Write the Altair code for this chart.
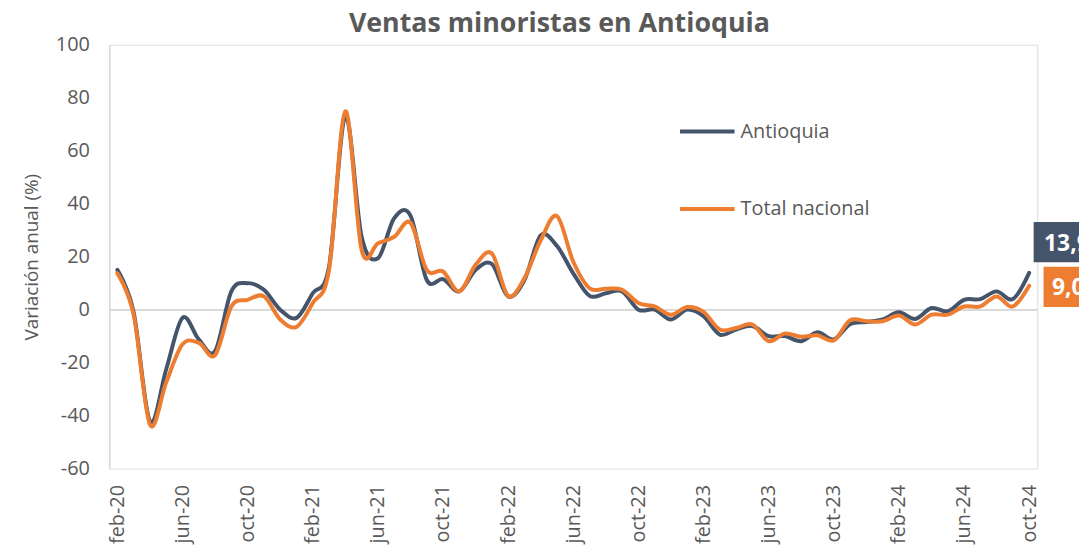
import altair as alt
import pandas as pd

# ---- data ----
tick_idx = list(range(0, 57, 4))
tick_labels = ["feb-20", "jun-20", "oct-20", "feb-21", "jun-21", "oct-21", "feb-22",
               "jun-22", "oct-22", "feb-23", "jun-23", "oct-23", "feb-24", "jun-24", "oct-24"]
series_names = ["Antioquia", "Total nacional"]
series_colors = ["#44546A", "#ED7D31"]

antioquia = [15.0, -1.0, -42.2, -22.5, -3.1, -11.2, -15.7, 6.9, 10.0, 7.5,
             0.0, -3.1, 6.2, 16.2, 73.0, 27.5, 19.4, 34.5, 35.5, 11.2,
             11.5, 6.9, 15.0, 17.2, 5.0, 11.2, 28.0, 24.0, 13.7, 5.2,
             6.2, 6.9, 0.0, 0.0, -3.7, 0.0, -2.5, -9.4, -7.5, -6.2,
             -10.0, -10.0, -11.9, -8.5, -11.2, -5.5, -4.7, -3.7, -1.0, -3.5,
             0.6, -0.6, 3.7, 4.0, 6.9, 4.0, 13.9]
nacional = [13.7, -2.0, -43.4, -27.4, -13.1, -12.5, -17.2, 1.2, 3.7, 5.0,
            -3.7, -6.5, 2.5, 15.0, 74.9, 22.5, 25.0, 27.5, 32.8, 15.0,
            14.4, 6.9, 16.9, 21.2, 5.2, 11.9, 26.2, 35.3, 18.1, 8.1,
            7.9, 7.5, 2.5, 1.2, -1.9, 1.0, -0.8, -7.5, -6.9, -5.6,
            -11.9, -9.0, -10.2, -9.7, -11.6, -4.0, -4.4, -4.4, -2.2, -5.6,
            -1.9, -1.9, 1.2, 1.2, 5.0, 1.2, 9.0]

rows = []
for name, vals in zip(series_names, [antioquia, nacional]):
    for i, v in enumerate(vals):
        rows.append({"idx": i, "serie": name, "valor": v,
                     "etiqueta": f"{v:.1f}".replace(".", ",")})
df = pd.DataFrame(rows)
last_idx = len(antioquia) - 1
df_a = df[df.serie == series_names[0]]
df_n = df[df.serie == series_names[1]]
last_a = df_a[df_a.idx == last_idx]
last_n = df_n[df_n.idx == last_idx]

FONT = "Open Sans"
GRAY = "#595959"
AXIS_GRAY = "#D9D9D9"

label_expr = "[" + ",".join(f"'{t}'" for t in tick_labels) + "][round(datum.value/4)]"

x = alt.X("idx:Q",
          scale=alt.Scale(domain=[-0.5, last_idx + 0.5], nice=False, zero=False),
          axis=alt.Axis(values=tick_idx, labelExpr=label_expr, labelAngle=270,
                        domain=False, ticks=False, grid=False, title=None,
                        labelFont=FONT, labelFontSize=20, labelColor=GRAY,
                        labelPadding=16, labelAlign="right", labelBaseline="middle"))
y = alt.Y("valor:Q",
          scale=alt.Scale(domain=[-60, 100], nice=False, zero=False),
          axis=alt.Axis(values=list(range(-60, 101, 20)), grid=False, ticks=False,
                        labelExpr="datum.value + ''",
                        domainColor=AXIS_GRAY, domainWidth=1.5,
                        labelFont=FONT, labelFontSize=20, labelColor=GRAY, labelPadding=20,
                        title="Variación anual (%)", titleFont=FONT, titleFontSize=19,
                        titleFontWeight="normal", titleColor=GRAY, titlePadding=14))

legend = alt.Legend(orient="none", legendX=573, legendY=58, title=None,
                    symbolType="stroke", symbolSize=3025, symbolStrokeWidth=4,
                    labelFont=FONT, labelFontSize=20, labelColor=GRAY,
                    labelOffset=4, rowPadding=38, padding=0)
color = alt.Color("serie:N", scale=alt.Scale(domain=series_names, range=series_colors),
                  legend=legend)

zero = alt.Chart(df).mark_rule(color=AXIS_GRAY, strokeWidth=1.5).encode(y=alt.datum(0))

line_a = alt.Chart(df_a).mark_line(interpolate="cardinal", strokeWidth=4, strokeCap="round").encode(
    x=x, y=y, color=color)
line_n = alt.Chart(df_n).mark_line(interpolate="cardinal", strokeWidth=4, strokeCap="round").encode(
    x=x, y=y, color=color)

box_shape = "M-2,-1.25H2V1.25H-2Z"
box_a = alt.Chart(last_a).mark_point(shape=box_shape, size=1056, filled=True, opacity=1,
                                     xOffset=37, yOffset=-31, color=series_colors[0]).encode(x=x, y=y)
box_n = alt.Chart(last_n).mark_point(shape=box_shape, size=1056, filled=True, opacity=1,
                                     xOffset=47, yOffset=1, color=series_colors[1]).encode(x=x, y=y)
txt_a = alt.Chart(last_a).mark_text(align="left", baseline="middle", dx=15, dy=-29,
                                    font=FONT, fontSize=23, fontWeight="bold", color="white").encode(
    x=x, y=y, text="etiqueta:N")
txt_n = alt.Chart(last_n).mark_text(align="left", baseline="middle", dx=23, dy=2,
                                    font=FONT, fontSize=23, fontWeight="bold", color="white").encode(
    x=x, y=y, text="etiqueta:N")

chart = alt.layer(zero, line_a, line_n, box_a, box_n, txt_a, txt_n).properties(
    width=935, height=427,
    title=alt.TitleParams("Ventas minoristas en Antioquia", font=FONT, fontSize=27,
                          fontWeight="bold", color=GRAY, anchor="middle", dx=-14,
                          baseline="alphabetic", offset=-24),
    autosize=alt.AutoSizeParams(type="none"),
    padding={"left": 102, "top": 35, "right": 42, "bottom": 80},
).configure_view(stroke=None).configure(background="white")

chart.save("out.html", embed_options={"renderer": "svg", "actions": False})
